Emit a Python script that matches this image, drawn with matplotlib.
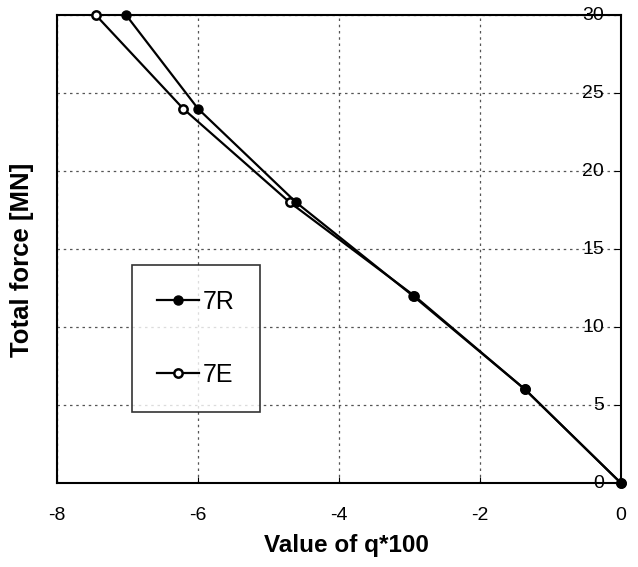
import numpy as np
import matplotlib.pyplot as plt

plt.rcParams['font.family'] = ['Liberation Sans', 'DejaVu Sans']
plt.rcParams['axes.unicode_minus'] = False

# total force levels [MN] and q*100 for the two cases
force = [0, 6, 12, 18, 24, 30]
q_7R = [0, -1.36, -2.95, -4.61, -6.00, -7.02]
q_7E = [0, -1.36, -2.93, -4.70, -6.21, -7.45]

x_ticks = [-8, -6, -4, -2, 0]
y_ticks = [0, 5, 10, 15, 20, 25, 30]

fig = plt.figure(figsize=(6.38, 5.67), dpi=100)
ax = fig.add_axes([0.0893, 0.148, 0.884, 0.8255])

ax.plot(q_7E, force, color='black', lw=1.6, marker='o', ms=6,
        mfc='white', mec='black', mew=1.8, label='7E', clip_on=False, zorder=4)
ax.plot(q_7R, force, color='black', lw=1.6, marker='o', ms=6.5,
        mfc='black', mec='black', label='7R', clip_on=False, zorder=5)

ax.set_xlim(-8, 0)
ax.set_ylim(0, 30)
ax.set_xticks(x_ticks)
ax.set_yticks(y_ticks)
ax.grid(True, color='#555555', ls=(0, (2, 3)), lw=0.9)

for s in ax.spines.values():
    s.set_linewidth(1.5)

ax.tick_params(axis='x', direction='in', length=4, labelsize=14, pad=17)
ax.tick_params(axis='y', direction='in', length=5, left=False, right=True,
               labelleft=False, labelright=False)

# force labels sit inside the frame, next to the right axis
for v in y_ticks:
    ax.text(-0.24, v, str(v), ha='right', va='center', fontsize=14,
            zorder=3)

ax.set_xlabel('Value of q*100', fontsize=17.5, fontweight='bold')
ax.set_ylabel('Total force [MN]', fontsize=18.5, fontweight='bold')
ax.xaxis.set_label_coords(0.514, -0.108)
ax.yaxis.set_label_coords(-0.041, 0.476)

handles, labels = ax.get_legend_handles_labels()
leg = ax.legend(handles[::-1], labels[::-1], loc='upper left',
                bbox_to_anchor=(0.133, 0.466), fontsize=18, frameon=True,
                fancybox=False, edgecolor='black', handlelength=1.7,
                labelspacing=1.95, borderpad=1.0, handletextpad=0.15,
                borderaxespad=0)
leg.get_frame().set_linewidth(1.2)

fig.savefig('out.png', dpi=100)
